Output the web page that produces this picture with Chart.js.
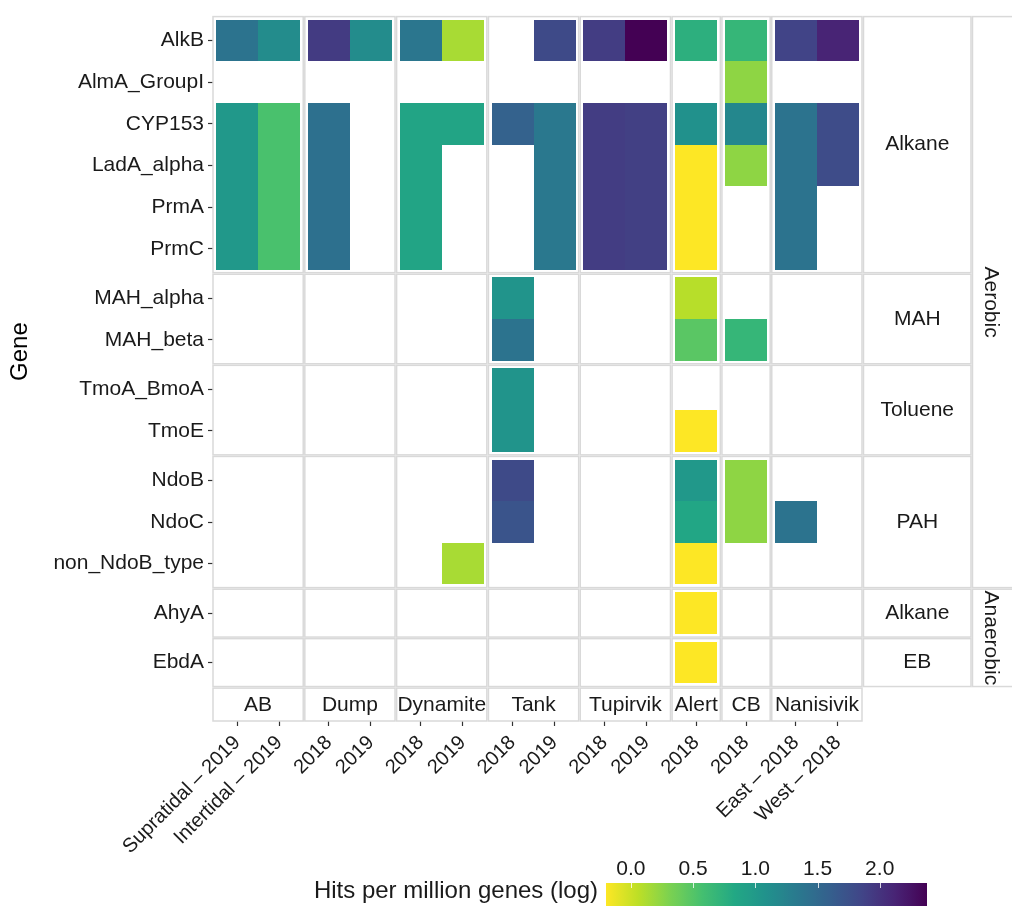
<!DOCTYPE html>
<html>
<head>
<meta charset="utf-8">
<script src="https://cdn.jsdelivr.net/npm/chart.js@4.4.1/dist/chart.umd.min.js"></script>
<style>
  html, body { margin: 0; padding: 0; background: #fff; }
  #wrap { width: 1012px; height: 906px; position: relative; }
</style>
</head>
<body>
<div id="wrap"><canvas id="heat"></canvas></div>
<script>
// column facets (sites) and the samples inside each one
const sites = ["AB", "Dump", "Dynamite", "Tank", "Tupirvik", "Alert", "CB", "Nanisivik"];
const siteCols = [2, 2, 2, 2, 2, 1, 1, 2];
const sampleLabels = [
  "Supratidal \u2013 2019", "Intertidal \u2013 2019",
  "2018", "2019", "2018", "2019", "2018", "2019", "2018", "2019",
  "2018", "2018",
  "East \u2013 2018", "West \u2013 2018"
];

// row facets
const genes = ["AlkB", "AlmA_GroupI", "CYP153", "LadA_alpha", "PrmA", "PrmC",
  "MAH_alpha", "MAH_beta", "TmoA_BmoA", "TmoE",
  "NdoB", "NdoC", "non_NdoB_type", "AhyA", "EbdA"];
const geneGroups = ["Alkane", "MAH", "Toluene", "PAH", "Alkane", "EB"];
const groupRows = [6, 2, 2, 3, 1, 1];
const metabolism = ["Aerobic", "Anaerobic"];
const metabolismGroups = [4, 2];

const legendTicks = [0, 0.5, 1, 1.5, 2];

// log hits per million genes, one value per sample column (null = no hit)
const n = null;
const AlkB        = [1.40, 1.14, 1.94, 1.14, 1.37, 0.14, n, 1.81, 1.92, 2.38, 0.75, 0.68, 1.86, 2.12];
const AlmA_GroupI = [n, n, n, n, n, n, n, n, n, n, n, 0.24, n, n];
const CYP153      = [1.01, 0.55, 1.43, n, 0.88, 0.88, 1.58, 1.35, 1.92, 1.90, 1.09, 1.19, 1.40, 1.79];
const LadA_alpha  = [1.01, 0.55, 1.43, n, 0.88, n, n, 1.35, 1.92, 1.90, -0.20, 0.24, 1.40, 1.79];
const PrmA        = [1.01, 0.55, 1.43, n, 0.88, n, n, 1.35, 1.92, 1.90, -0.20, n, 1.40, n];
const PrmC        = [1.01, 0.55, 1.43, n, 0.88, n, n, 1.35, 1.92, 1.90, -0.20, n, 1.40, n];
const MAH_alpha   = [n, n, n, n, n, n, 1.06, n, n, n, 0.08, n, n, n];
const MAH_beta    = [n, n, n, n, n, n, 1.40, n, n, n, 0.47, 0.68, n, n];
const TmoA_BmoA   = [n, n, n, n, n, n, 1.06, n, n, n, n, n, n, n];
const TmoE        = [n, n, n, n, n, n, 1.06, n, n, n, -0.20, n, n, n];
const NdoB        = [n, n, n, n, n, n, 1.81, n, n, n, 1.01, 0.24, n, n];
const NdoC        = [n, n, n, n, n, n, 1.71, n, n, n, 0.86, 0.24, 1.40, n];
const non_NdoB_type = [n, n, n, n, n, 0.14, n, n, n, n, -0.20, n, n, n];
const AhyA        = [n, n, n, n, n, n, n, n, n, n, -0.20, n, n, n];
const EbdA        = [n, n, n, n, n, n, n, n, n, n, -0.20, n, n, n];

const geneValues = [AlkB, AlmA_GroupI, CYP153, LadA_alpha, PrmA, PrmC, MAH_alpha, MAH_beta,
  TmoA_BmoA, TmoE, NdoB, NdoC, non_NdoB_type, AhyA, EbdA];

const FONT = "'Liberation Sans', Arial, Helvetica, sans-serif";
const TEXT = "#1a1a1a";
const BORDER = "#d9d9d9";

// facet spacing, in cell units
const PAD = 0.075, GAP = 0.038, STRIP = 0.79;

function layoutFacets(counts) {
  const panels = [], centers = [];
  let at = 0;
  counts.forEach(cnt => {
    const start = at;
    at += PAD;
    for (let i = 0; i < cnt; i++) centers.push(at + i + 0.5);
    at += cnt + PAD;
    panels.push({ start, end: at });
    at += GAP;
  });
  return { panels, centers, end: at - GAP };
}

const xFacets = layoutFacets(siteCols);
const yFacets = layoutFacets(groupRows);
const xMax = xFacets.end;
const stripTop = yFacets.end + GAP;
const yMax = stripTop + STRIP;

const allVals = geneValues.flat().filter(v => v !== null);
const vmin = Math.min(...allVals);
const vmax = Math.max(...allVals);

const viridisStops = ["#440154", "#482475", "#414487", "#355f8d", "#2a788e", "#21918c",
  "#22a884", "#44bf70", "#7ad151", "#bddf26", "#fde725"];

function hexRgb(h) {
  return [1, 3, 5].map(i => parseInt(h.slice(i, i + 2), 16));
}

function viridis(s) {
  s = Math.max(0, Math.min(1, s));
  const p = s * 10;
  const i = Math.min(9, Math.floor(p));
  const f = p - i;
  const a = hexRgb(viridisStops[i]), b = hexRgb(viridisStops[i + 1]);
  const c = a.map((v, k) => Math.round(v + (b[k] - v) * f));
  return `rgb(${c[0]},${c[1]},${c[2]})`;
}

// high values dark, low values yellow
const fillFor = v => viridis(1 - (v - vmin) / (vmax - vmin));

const cells = [];
geneValues.forEach((row, r) => {
  row.forEach((v, c) => {
    if (v !== null) cells.push({ x: xFacets.centers[c], y: yFacets.centers[r], v: v });
  });
});

const facetPlugin = {
  id: "facets",
  beforeDraw(chart) {
    const ctx = chart.ctx;
    ctx.save();
    ctx.fillStyle = "#fff";
    ctx.fillRect(0, 0, chart.width, chart.height);
    ctx.restore();
  },
  beforeDatasetsDraw(chart) {
    const ctx = chart.ctx;
    const xs = chart.scales.x, ys = chart.scales.y;
    ctx.save();
    chart.data.datasets[0].data.forEach(p => {
      const x0 = Math.round(xs.getPixelForValue(p.x - 0.5));
      const x1 = Math.round(xs.getPixelForValue(p.x + 0.5));
      const y0 = Math.round(ys.getPixelForValue(p.y - 0.5));
      const y1 = Math.round(ys.getPixelForValue(p.y + 0.5));
      ctx.fillStyle = fillFor(p.v);
      ctx.fillRect(x0, y0, x1 - x0, y1 - y0);
    });
    ctx.restore();
  },
  afterDraw(chart) {
    const ctx = chart.ctx;
    const xs = chart.scales.x, ys = chart.scales.y;
    const area = chart.chartArea;
    ctx.save();
    ctx.strokeStyle = BORDER;
    ctx.lineWidth = 1.5;

    // panel borders
    xFacets.panels.forEach(px => {
      const x0 = xs.getPixelForValue(px.start), x1 = xs.getPixelForValue(px.end);
      yFacets.panels.forEach(py => {
        const y0 = ys.getPixelForValue(py.start), y1 = ys.getPixelForValue(py.end);
        ctx.strokeRect(x0, y0, x1 - x0, y1 - y0);
      });
    });

    ctx.fillStyle = TEXT;
    ctx.font = `21px ${FONT}`;
    ctx.textAlign = "center";
    ctx.textBaseline = "middle";

    // site strips along the bottom
    const sy0 = ys.getPixelForValue(stripTop), sy1 = ys.getPixelForValue(yMax);
    xFacets.panels.forEach((px, i) => {
      const x0 = xs.getPixelForValue(px.start), x1 = xs.getPixelForValue(px.end);
      ctx.strokeRect(x0, sy0, x1 - x0, sy1 - sy0);
      ctx.fillText(sites[i], (x0 + x1) / 2, (sy0 + sy1) / 2 + 1);
    });

    // gene group strips on the right
    const rx0 = area.right + 1.5, rx1 = area.right + 109;
    yFacets.panels.forEach((py, i) => {
      const y0 = ys.getPixelForValue(py.start), y1 = ys.getPixelForValue(py.end);
      ctx.strokeRect(rx0, y0, rx1 - rx0, y1 - y0);
      ctx.fillText(geneGroups[i], (rx0 + rx1) / 2, (y0 + y1) / 2);
    });

    // aerobic / anaerobic strips
    const ox0 = rx1 + 1.5, ox1 = chart.width + 10;
    let k = 0;
    metabolismGroups.forEach((cnt, i) => {
      const y0 = ys.getPixelForValue(yFacets.panels[k].start);
      const y1 = ys.getPixelForValue(yFacets.panels[k + cnt - 1].end);
      k += cnt;
      ctx.strokeRect(ox0, y0, ox1 - ox0, y1 - y0);
      ctx.save();
      ctx.translate(ox0 + 18, (y0 + y1) / 2);
      ctx.rotate(Math.PI / 2);
      ctx.fillText(metabolism[i], 0, 0);
      ctx.restore();
    });

    // y axis title, centred on the panels like ggplot does
    const gy = (ys.getPixelForValue(0) + ys.getPixelForValue(yFacets.end)) / 2;
    ctx.save();
    ctx.fillStyle = "#000";
    ctx.font = `24px ${FONT}`;
    ctx.translate(20, gy);
    ctx.rotate(-Math.PI / 2);
    ctx.fillText("Gene", 0, 0);
    ctx.restore();

    // colour bar legend
    const bx0 = 606, bx1 = 927, by0 = 883, by1 = 912;
    const grad = ctx.createLinearGradient(bx0, 0, bx1, 0);
    for (let i = 0; i <= 40; i++) grad.addColorStop(i / 40, viridis(1 - i / 40));
    ctx.fillStyle = grad;
    ctx.fillRect(bx0, by0, bx1 - bx0, by1 - by0);
    ctx.strokeStyle = "rgba(255,255,255,0.8)";
    ctx.lineWidth = 1;
    ctx.fillStyle = TEXT;
    legendTicks.forEach(t => {
      const x = bx0 + (t - vmin) / (vmax - vmin) * (bx1 - bx0);
      ctx.beginPath();
      ctx.moveTo(Math.round(x) + 0.5, by0);
      ctx.lineTo(Math.round(x) + 0.5, by0 + 5);
      ctx.stroke();
      ctx.fillText(t.toFixed(1), x, 869);
    });
    ctx.font = `24px ${FONT}`;
    ctx.textAlign = "right";
    ctx.fillText("Hits per million genes (log)", 598, 891);
    ctx.restore();
  }
};

new Chart(document.getElementById("heat"), {
  type: "scatter",
  data: {
    datasets: [{ data: cells, pointRadius: 0, pointHoverRadius: 0 }]
  },
  options: {
    responsive: true,
    maintainAspectRatio: false,
    animation: false,
    events: [],
    layout: { padding: { top: 13, right: 150, bottom: 0, left: 0 } },
    plugins: {
      legend: { display: false },
      tooltip: { enabled: false }
    },
    scales: {
      x: {
        type: "linear",
        min: 0,
        max: xMax,
        border: { display: false },
        grid: { drawOnChartArea: false, tickLength: 5, tickColor: "#333", tickWidth: 1.2 },
        ticks: {
          autoSkip: false,
          minRotation: 45,
          maxRotation: 45,
          padding: 5,
          color: TEXT,
          font: { family: FONT, size: 20 },
          callback: (val, i) => sampleLabels[i]
        },
        afterBuildTicks: s => { s.ticks = xFacets.centers.map(value => ({ value })); },
        afterFit: s => { s.height = 185; }
      },
      y: {
        type: "linear",
        reverse: true,
        min: 0,
        max: yMax,
        border: { display: false },
        grid: { drawOnChartArea: false, tickLength: 5, tickColor: "#333", tickWidth: 1.2 },
        ticks: {
          autoSkip: false,
          padding: 4,
          color: TEXT,
          font: { family: FONT, size: 21 },
          callback: (val, i) => genes[i]
        },
        afterBuildTicks: s => { s.ticks = yFacets.centers.map(value => ({ value })); },
        afterFit: s => { s.width = 213; }
      }
    }
  },
  plugins: [facetPlugin]
});
</script>
</body>
</html>
